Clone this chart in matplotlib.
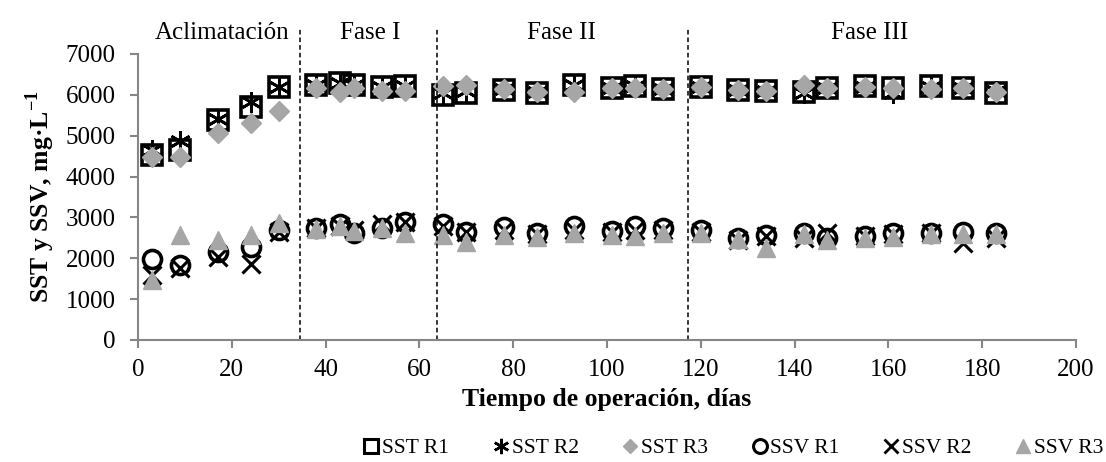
import matplotlib
matplotlib.use("Agg")
import matplotlib.pyplot as plt
from matplotlib.lines import Line2D

plt.rcParams['font.family'] = ['Liberation Serif', 'DejaVu Serif']
plt.rcParams['mathtext.fontset'] = 'custom'
plt.rcParams['mathtext.rm'] = 'Liberation Serif'
plt.rcParams['mathtext.bf'] = 'Liberation Serif:bold'

days = [3, 9, 17, 24, 30, 38, 43, 46, 52, 57, 65, 70, 78, 85, 93, 101, 106, 112,
        120, 128, 134, 142, 147, 155, 161, 169, 176, 183]

sst_r1 = [4530, 4650, 5380, 5710, 6200, 6240, 6290, 6240, 6190, 6220, 6000, 6040,
          6120, 6050, 6240, 6160, 6220, 6150, 6200, 6130, 6100, 6080, 6180, 6220,
          6160, 6220, 6180, 6050]
sst_r2 = [4650, 4880, 5400, 5830, 6200, 6250, 6300, 6250, 6200, 6220, 6050, 6100,
          6150, 6080, 6250, 6160, 6220, 6150, 6200, 6130, 6100, 6050, 6180, 6200,
          6050, 6200, 6160, 6100]
sst_r3 = [4480, 4480, 5060, 5310, 5610, 6170, 6080, 6170, 6100, 6100, 6220, 6240,
          6150, 6080, 6080, 6160, 6160, 6150, 6200, 6130, 6100, 6240, 6180, 6200,
          6160, 6150, 6160, 6060]
ssv_r1 = [1975, 1835, 2160, 2280, 2690, 2730, 2840, 2610, 2730, 2900, 2840, 2650,
          2770, 2610, 2790, 2680, 2790, 2730, 2690, 2490, 2570, 2610, 2490, 2540,
          2610, 2610, 2650, 2610]
ssv_r2 = [1600, 1760, 2030, 1860, 2650, 2750, 2800, 2700, 2850, 2900, 2800, 2650,
          2700, 2600, 2700, 2650, 2700, 2700, 2650, 2450, 2550, 2500, 2610, 2550,
          2600, 2620, 2370, 2500]
ssv_r3 = [1470, 2570, 2450, 2570, 2870, 2710, 2790, 2670, 2750, 2630, 2570, 2400,
          2570, 2530, 2610, 2570, 2540, 2610, 2630, 2460, 2240, 2600, 2450, 2500,
          2530, 2600, 2600, 2600]

phase_bounds = [34.5, 63.7, 117.3]
phase_names = ["Aclimatación", "Fase I", "Fase II", "Fase III"]
phase_label_x = [18.0, 49.5, 90.2, 156.0]

labels = ["SST R1", "SST R2", "SST R3", "SSV R1", "SSV R2", "SSV R3"]

GRAY = "#A6A6A6"
AX = "#868686"

fig = plt.figure(figsize=(11.06, 4.62), dpi=100)
ax = fig.add_axes([138/1106, 1-340/462, (1076-138)/1106, (340-54)/462])

ax.plot(days, sst_r1, ls='none', marker='s', ms=14, mfc='none', mec='black', mew=2.6, clip_on=False)
ax.plot(days, sst_r2, ls='none', marker=(6, 2, 0), ms=15, mec='black', mew=2.0, clip_on=False)
ax.plot(days, sst_r3, ls='none', marker='D', ms=10, mfc=GRAY, mec=GRAY, clip_on=False)
ax.plot(days, ssv_r1, ls='none', marker='o', ms=13, mfc='none', mec='black', mew=2.6, clip_on=False)
ax.plot(days, ssv_r2, ls='none', marker='x', ms=13, mec='black', mew=2.2, clip_on=False)
ax.plot(days, ssv_r3, ls='none', marker='^', ms=13, mfc=GRAY, mec=GRAY, clip_on=False)

for b in phase_bounds:
    ax.plot([b, b], [0, 1.094], transform=ax.get_xaxis_transform(), color='black',
            ls=(0, (3, 2)), lw=1.1, clip_on=False)
for name, xp in zip(phase_names, phase_label_x):
    ax.text(xp, 1.075, name, transform=ax.get_xaxis_transform(), ha='center', va='center', fontsize=18)

ax.set_xlim(0, 200)
ax.set_ylim(0, 7000)
ax.set_xticks(range(0, 201, 20))
ax.set_yticks(range(0, 7001, 1000))
for s in ['top', 'right']:
    ax.spines[s].set_visible(False)
for s in ['left', 'bottom']:
    ax.spines[s].set_color(AX)
    ax.spines[s].set_linewidth(1.5)
ax.tick_params(axis='both', colors=AX, labelcolor='black', labelsize=18, width=1.5, length=6)
ax.tick_params(axis='x', pad=8)
ax.tick_params(axis='y', pad=10)

ax.set_xlabel("Tiempo de operación, días", fontsize=18.5, fontweight='bold', labelpad=5)
ax.set_ylabel("SST y SSV, mg·L$^{\\mathbf{-1}}$", fontsize=18.5, fontweight='bold', labelpad=6)

handles = [
    Line2D([], [], ls='none', marker='s', ms=10, mfc='none', mec='black', mew=2.2),
    Line2D([], [], ls='none', marker=(6, 2, 0), ms=11, mec='black', mew=1.8),
    Line2D([], [], ls='none', marker='D', ms=7, mfc=GRAY, mec=GRAY),
    Line2D([], [], ls='none', marker='o', ms=10, mfc='none', mec='black', mew=2.2),
    Line2D([], [], ls='none', marker='x', ms=10, mec='black', mew=2.0),
    Line2D([], [], ls='none', marker='^', ms=10, mfc=GRAY, mec=GRAY),
]
fig.legend(handles, labels, loc='center', bbox_to_anchor=(732/1106, 1-448/462), ncol=6,
           frameon=False, fontsize=15.5, handletextpad=0.0, columnspacing=1.9, handlelength=1.0)

fig.savefig("out.png", dpi=100)
